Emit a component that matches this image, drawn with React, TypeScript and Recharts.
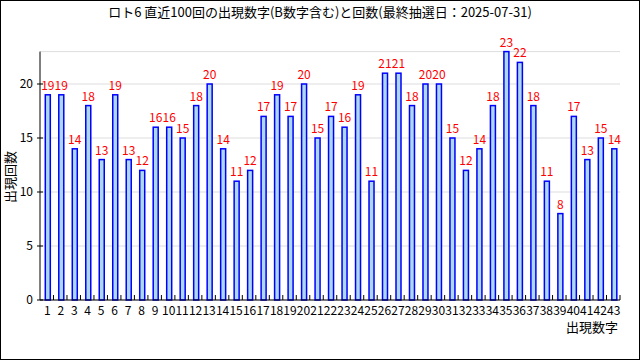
import React from 'react'
import { BarChart, Bar, XAxis, YAxis, CartesianGrid, LabelList } from 'recharts'

const numbers = Array.from({ length: 43 }, (_, i) => String(i + 1))
const counts = [
  19, 19, 14, 18, 13, 19, 13, 12, 16, 16, 15, 18, 20, 14, 11, 12, 17, 19, 17, 20, 15, 17,
  16, 19, 11, 21, 21, 18, 20, 20, 15, 12, 14, 18, 23, 22, 18, 11, 8, 17, 13, 15, 14,
]
const yTicks = [0, 5, 10, 15, 20]

const data = numbers.map((n, i) => ({ num: n, count: counts[i] }))

const FONT = '"Noto Sans CJK JP", "DejaVu Sans", sans-serif'
const PLOT_W = 580
const STEP = PLOT_W / numbers.length
const BAR_SHIFT = 1.3

const XTick = (props: any) => {
  const { x, y, payload } = props
  return (
    <g>
      <line x1={x + STEP / 2} y1={y} x2={x + STEP / 2} y2={y - 5} stroke="#000" />
      <text x={x + 0.5} y={y + 15} textAnchor="middle" fontSize={12} fontFamily={FONT} fill="#000">
        {payload.value}
      </text>
    </g>
  )
}

const YTick = (props: any) => {
  const { x, y, payload } = props
  return (
    <g>
      <line x1={x - 3} y1={y} x2={x + 3} y2={y} stroke="#000" />
      <text x={x - 7} y={y + 4} textAnchor="end" fontSize={12} fontFamily={FONT} fill="#000">
        {payload.value}
      </text>
    </g>
  )
}

// shift bars a touch to the right like the original renderer
const BarShape = (props: any) => {
  const { x, y, width, height } = props
  return (
    <rect
      x={x + BAR_SHIFT}
      y={y}
      width={width}
      height={height}
      fill="#add8e6"
      stroke="#0000ff"
      strokeWidth={1.5}
    />
  )
}

const BarLabel = (props: any) => {
  const { x, y, width, value } = props
  return (
    <text
      x={x + width / 2 + BAR_SHIFT}
      y={y - 5}
      textAnchor="middle"
      fontSize={12}
      fontFamily={FONT}
      fill="#ff0000"
    >
      {value}
    </text>
  )
}

export default function App() {
  return (
    <div
      style={{
        position: 'absolute',
        left: 0,
        top: 0,
        width: 640,
        height: 360,
        boxSizing: 'border-box',
        border: '1px solid #000',
        background: '#fff',
        fontFamily: FONT,
      }}
    >
      <div
        style={{
          position: 'absolute',
          top: 1,
          left: 0,
          width: 638,
          textAlign: 'center',
          fontSize: 13,
        }}
      >
        ロト6 直近100回の出現数字(B数字含む)と回数(最終抽選日：2025-07-31)
      </div>
      <div
        style={{
          position: 'absolute',
          left: 0,
          top: 176,
          transform: 'translate(0, -50%) rotate(-90deg)',
          transformOrigin: 'center',
          fontSize: 13,
          width: 16,
          textAlign: 'center',
          whiteSpace: 'nowrap',
          display: 'flex',
          justifyContent: 'center',
        }}
      >
        出現回数
      </div>
      <div style={{ position: 'absolute', right: 21, top: 316, fontSize: 13 }}>出現数字</div>
      <div style={{ position: 'absolute', left: -1, top: -1 }}>
        <BarChart
          width={640}
          height={360}
          data={data}
          margin={{ top: 51.6, right: 20, bottom: 30, left: 0 }}
          barSize={5}
        >
          <CartesianGrid vertical={false} stroke="#dddddd" />
          <XAxis
            dataKey="num"
            interval={0}
            height={30}
            tickLine={false}
            tickSize={0}
            tickMargin={0}
            tick={<XTick />}
            axisLine={{ stroke: '#000' }}
          />
          <YAxis
            width={40}
            domain={[0, 23]}
            ticks={yTicks}
            tickLine={false}
            tickSize={0}
            tickMargin={0}
            tick={<YTick />}
            axisLine={{ stroke: '#000' }}
          />
          <Bar dataKey="count" shape={<BarShape />} isAnimationActive={false}>
            <LabelList dataKey="count" content={<BarLabel />} />
          </Bar>
        </BarChart>
      </div>
    </div>
  )
}
